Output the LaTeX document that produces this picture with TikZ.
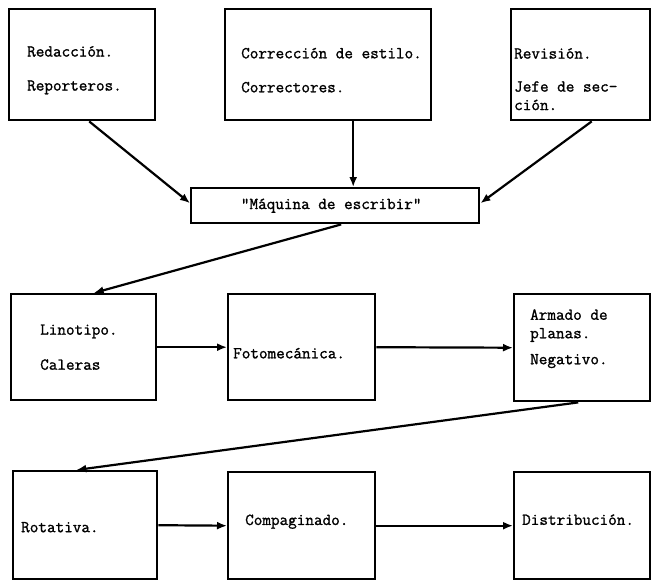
\documentclass[tikz,border=0pt]{standalone}
\usepackage{fontspec}
\newfontfamily\maquina{Latin Modern Mono}[FakeBold=1.3]
\usetikzlibrary{arrows.meta,positioning}

\tikzset{
  caja/.style={draw, line width=2.4pt, anchor=north west, inner sep=0pt},
  texto/.style={anchor=west, align=left, inner sep=0pt,
    font=\maquina\fontsize{16.7}{18.5}\selectfont},
  flecha/.style={line width=2.2pt, -{Latex[length=10pt,width=8pt]}}
}

\begin{document}
\begin{tikzpicture}[x=1pt,y=-1pt]
  \useasboundingbox (0,0) rectangle (651,579);
  % primera fila
  \node[caja, minimum width=146pt, minimum height=111pt] (red) at (8,8) {};
  \node[caja, minimum width=206pt, minimum height=111pt] (cor) at (224,8) {};
  \node[caja, minimum width=139pt, minimum height=111pt] (rev) at (510,8) {};
  \node[caja, minimum width=288pt, minimum height=35pt] (maq) at (190,187) {};
  % segunda fila
  \node[caja, minimum width=145pt, minimum height=106pt] (lin) at (10,293) {};
  \node[caja, minimum width=147pt, minimum height=106pt] (foto) at (227,293) {};
  \node[caja, minimum width=136pt, minimum height=107pt] (arm) at (513,293) {};
  % tercera fila
  \node[caja, minimum width=144pt, minimum height=108pt] (rot) at (12,470) {};
  \node[caja, minimum width=147pt, minimum height=107pt] (comp) at (227,471) {};
  \node[caja, minimum width=136pt, minimum height=107pt] (dist) at (513,471) {};

  % textos
  \node[texto] (redt) at ([xshift=19pt,yshift=-5.5pt]red.west) {Redacción.\\[15.5pt]Reporteros.};
  \node[texto] (cort) at ([xshift=17pt,yshift=-5.5pt]cor.west) {Corrección de estilo.\\[15.5pt]Correctores.};
  \node[texto] (revt) at ([xshift=4pt,yshift=-14.5pt]rev.west) {Revisión.\\[14.5pt]Jefe de sec-\\ción.};
  \node[texto, anchor=center] (maqt) at ([xshift=-4pt]maq) {"Máquina de escribir"};
  \node[texto] (lint) at ([xshift=30pt]lin.west) {Linotipo.\\[16.5pt]Caleras};
  \node[texto] (fotot) at ([xshift=6pt,yshift=-6pt]foto.west) {Fotomecánica.};
  \node[texto] (armt) at ([xshift=17pt,yshift=9pt]arm.west) {Armado de\\planas.\\[7.5pt]Negativo.};
  \node[texto] (rott) at ([xshift=9pt,yshift=-2pt]rot.west) {Rotativa.};
  \node[texto] (compt) at ([xshift=18pt,yshift=4pt]comp.west) {Compaginado.};
  \node[texto] (distt) at ([xshift=9pt,yshift=6pt]dist.west) {Distribución.};

  % flechas
  \draw[flecha] ([xshift=7pt]red.south) -- ([yshift=2.5pt]maq.west);
  \draw[flecha] ([xshift=25pt]cor.south) -- ([xshift=25pt]cor.south |- maq.north);
  \draw[flecha] ([xshift=11pt]rev.south) -- ([yshift=2.5pt]maq.east);
  \draw[flecha] ([xshift=6pt]maq.south) -- ([xshift=10pt]lin.north);
  \draw[flecha] (lin.east) -- (foto.west);
  \draw[flecha] (foto.east) -- (arm.west);
  \draw[flecha] ([xshift=-4pt]arm.south) -- ([xshift=-9pt]rot.north);
  \draw[flecha] (rot.east) -- (comp.west);
  \draw[flecha] (comp.east) -- (dist.west);
\end{tikzpicture}
\end{document}
